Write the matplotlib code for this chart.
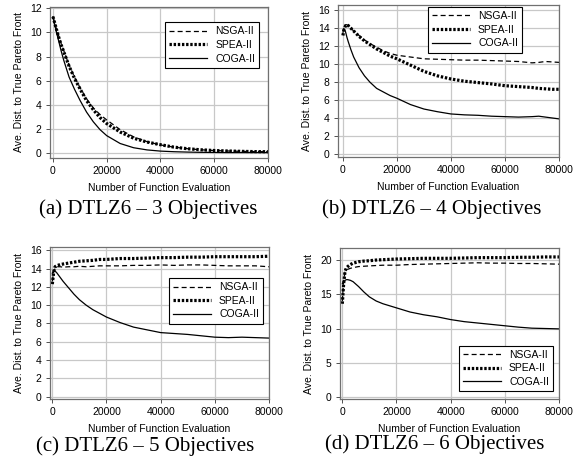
import matplotlib.pyplot as plt

# ---- data ----------------------------------------------------------------
x_a = [0, 1000, 2000, 3000, 4000, 6000, 8000, 10000, 12500, 15000, 17500, 20000,
       25000, 30000, 35000, 40000, 45000, 50000, 55000, 60000, 65000, 70000, 75000, 80000]
nsga_a = [11.3, 10.5, 9.8, 9.1, 8.5, 7.3, 6.3, 5.45, 4.5, 3.75, 3.2, 2.75,
          1.95, 1.35, 0.95, 0.68, 0.5, 0.37, 0.28, 0.22, 0.18, 0.15, 0.13, 0.12]
spea_a = [11.3, 10.5, 9.7, 9.0, 8.4, 7.2, 6.2, 5.35, 4.35, 3.6, 2.95, 2.45,
          1.75, 1.24, 0.92, 0.7, 0.5, 0.37, 0.28, 0.22, 0.18, 0.15, 0.13, 0.12]
coga_a = [11.3, 10.3, 9.4, 8.5, 7.7, 6.3, 5.3, 4.4, 3.4, 2.6, 1.95, 1.45,
          0.8, 0.45, 0.27, 0.17, 0.12, 0.09, 0.07, 0.06, 0.05, 0.05, 0.05, 0.05]

x_b = [0, 500, 1000, 1500, 2000, 3000, 4000, 6000, 8000, 10000, 12500, 15000, 17500, 20000,
       25000, 30000, 35000, 40000, 45000, 50000, 55000, 60000, 65000, 70000, 72500, 75000, 77500, 80000]
nsga_b = [13.5, 14.2, 14.4, 14.4, 14.3, 14.0, 13.7, 13.2, 12.7, 12.3, 11.9, 11.5, 11.2, 11.0,
          10.8, 10.6, 10.55, 10.5, 10.45, 10.45, 10.4, 10.35, 10.3, 10.15, 10.2, 10.3, 10.25, 10.2]
spea_b = [13.2, 13.9, 14.3, 14.4, 14.3, 14.0, 13.7, 13.1, 12.6, 12.2, 11.7, 11.3, 10.9, 10.6,
          9.9, 9.2, 8.7, 8.35, 8.1, 7.95, 7.8, 7.6, 7.5, 7.4, 7.3, 7.25, 7.2, 7.2]
coga_b = [13.8, 13.9, 13.6, 13.0, 12.5, 11.6, 10.8, 9.6, 8.7, 8.0, 7.3, 6.9, 6.5, 6.2,
          5.5, 5.0, 4.7, 4.45, 4.35, 4.3, 4.2, 4.15, 4.1, 4.15, 4.2, 4.1, 4.0, 3.9]

x_cd = [0, 500, 1000, 1500, 2000, 3000, 4000, 6000, 8000, 10000, 12500, 15000, 17500, 20000,
        25000, 30000, 35000, 40000, 45000, 50000, 55000, 60000, 65000, 70000, 75000, 80000]
nsga_c = [12.6, 13.6, 14.0, 14.2, 14.2, 14.2, 14.15, 14.2, 14.2, 14.25, 14.2, 14.25, 14.3, 14.3,
          14.3, 14.35, 14.35, 14.4, 14.35, 14.4, 14.4, 14.35, 14.3, 14.3, 14.3, 14.2]
spea_c = [12.3, 13.6, 14.2, 14.3, 14.35, 14.45, 14.5, 14.6, 14.7, 14.8, 14.85, 14.9, 15.0, 15.0,
          15.1, 15.1, 15.15, 15.2, 15.2, 15.25, 15.25, 15.3, 15.3, 15.3, 15.3, 15.35]
coga_c = [13.5, 13.8, 13.7, 13.6, 13.4, 13.0, 12.6, 11.9, 11.2, 10.6, 10.0, 9.5, 9.1, 8.7,
          8.1, 7.6, 7.3, 7.0, 6.9, 6.8, 6.65, 6.5, 6.45, 6.5, 6.45, 6.4]

nsga_d = [14.0, 17.0, 18.2, 18.5, 18.6, 18.75, 18.85, 19.0, 19.05, 19.1, 19.15, 19.2, 19.2, 19.2,
          19.3, 19.35, 19.4, 19.45, 19.5, 19.55, 19.5, 19.5, 19.45, 19.45, 19.4, 19.35]
spea_d = [13.6, 16.5, 18.3, 18.8, 19.0, 19.3, 19.5, 19.7, 19.8, 19.85, 19.95, 20.0, 20.05, 20.1,
          20.15, 20.2, 20.2, 20.2, 20.25, 20.3, 20.3, 20.3, 20.35, 20.35, 20.4, 20.4]
coga_d = [16.5, 16.8, 17.0, 17.1, 17.1, 17.0, 16.8, 16.1, 15.3, 14.6, 14.0, 13.6, 13.3, 13.0,
          12.4, 12.0, 11.7, 11.3, 11.0, 10.8, 10.6, 10.4, 10.2, 10.05, 10.0, 9.95]

series = ["NSGA-II", "SPEA-II", "COGA-II"]
captions = ["(a) DTLZ6 \u2013 3 Objectives", "(b) DTLZ6 \u2013 4 Objectives",
            "(c) DTLZ6 \u2013 5 Objectives", "(d) DTLZ6 \u2013 6 Objectives"]
x_ticks = [0, 20000, 40000, 60000, 80000]

plt.rcParams["font.family"] = ["Liberation Sans", "DejaVu Sans"]

W, H = 581, 466
fig = plt.figure(figsize=(W / 100, H / 100), dpi=100)


def px_axes(left, top, right, bottom):
    return fig.add_axes([left / W, 1 - bottom / H, (right - left) / W, (bottom - top) / H])


panels = [
    # axes box (px), x data, curves, xlim, ylim, yticks, legend loc, legend anchor, caption pos
    dict(box=(50, 7, 268, 158), x=x_a, ys=(nsga_a, spea_a, coga_a), xlim=(-1100, 80000),
         ylim=(-0.4, 12.1), yticks=range(0, 13, 2), loc="upper right", anchor=(0.96, 0.90),
         cap=(148, 209)),
    dict(box=(338, 5, 559, 157), x=x_b, ys=(nsga_b, spea_b, coga_b), xlim=(-1800, 80000),
         ylim=(-0.35, 16.6), yticks=range(0, 17, 2), loc="upper right", anchor=(0.833, 0.987),
         cap=(432, 209)),
    dict(box=(50, 247, 269, 399), x=x_cd, ys=(nsga_c, spea_c, coga_c), xlim=(-850, 80000),
         ylim=(-0.26, 16.36), yticks=range(0, 17, 2), loc="upper right", anchor=(0.973, 0.796),
         cap=(145, 446)),
    dict(box=(340, 248, 559, 399), x=x_cd, ys=(nsga_d, spea_d, coga_d), xlim=(-850, 80000),
         ylim=(-0.24, 21.7), yticks=range(0, 21, 5), loc="lower right", anchor=(0.973, 0.051),
         cap=(435, 444)),
]

styles = [dict(ls=(0, (4, 2.5)), lw=0.9),
          dict(ls=(0, (0.75, 0.55)), lw=2.3, dash_capstyle="butt"),
          dict(ls="-", lw=0.9)]

for p, cap in zip(panels, captions):
    ax = px_axes(*p["box"])
    for name, y, st in zip(series, p["ys"], styles):
        ax.plot(p["x"], y, color="black", label=name, **st)
    ax.set_xlim(*p["xlim"])
    ax.set_ylim(*p["ylim"])
    ax.set_xticks(x_ticks)
    ax.set_yticks(list(p["yticks"]))
    ax.grid(True, color="#c8c8c8", lw=0.9)
    ax.set_axisbelow(True)
    for s in ax.spines.values():
        s.set_color("#707070")
        s.set_linewidth(0.9)
    ax.tick_params(labelsize=7.5, length=3, width=0.7, color="#505050", pad=3)
    ax.set_xlabel("Number of Function Evaluation", fontsize=7.5, labelpad=5)
    ax.set_ylabel("Ave. Dist. to True Pareto Front", fontsize=7.5, labelpad=4)
    leg = ax.legend(loc=p["loc"], bbox_to_anchor=p["anchor"], borderaxespad=0,
                    fontsize=7.5, handlelength=3.6, fancybox=False, framealpha=1,
                    edgecolor="black", labelspacing=0.35, borderpad=0.4, handletextpad=0.8)
    leg.get_frame().set_linewidth(0.8)
    fig.text(p["cap"][0] / W, 1 - p["cap"][1] / H, cap, ha="center", va="center",
             fontsize=15, family="Liberation Serif")

fig.savefig("out.png", dpi=100)
